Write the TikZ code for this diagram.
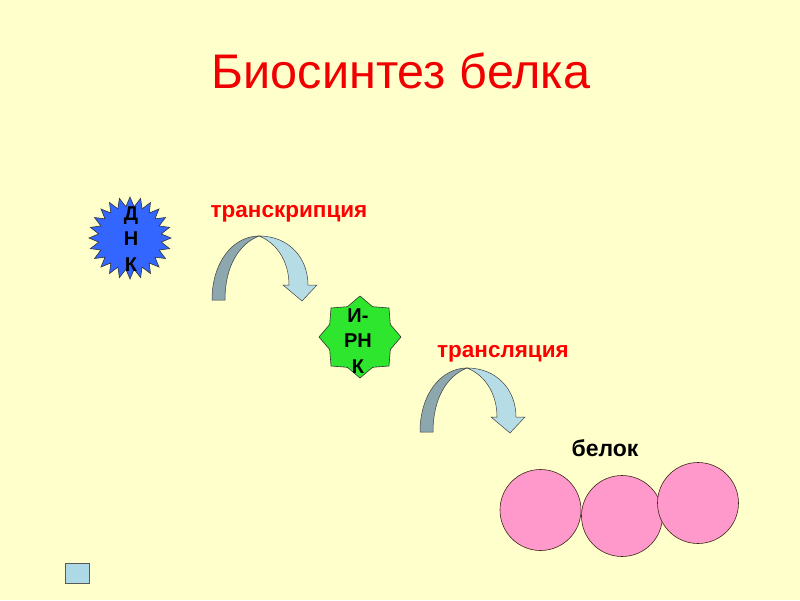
\documentclass[tikz,border=0pt]{standalone}
\usepackage{fontspec}
\setmainfont{Liberation Sans}
\usetikzlibrary{shapes.geometric}
\definecolor{bg}{HTML}{FFFFCC}
\definecolor{dnablue}{HTML}{3366FF}
\definecolor{rnagreen}{HTML}{2EE62E}
\definecolor{arrdark}{HTML}{8CA7AD}
\definecolor{arrlight}{HTML}{B6DDE6}
\definecolor{protpink}{HTML}{FF99CC}
\definecolor{sqblue}{HTML}{ADD8E6}
\definecolor{titlered}{HTML}{F00000}
\tikzset{
  starbox/.style={star, inner sep=0pt, draw=black!80, line width=0.6pt},
  letters/.style={align=center, font=\bfseries\fontsize{20}{25.5}\selectfont, text=black},
  proclabel/.style={anchor=base, font=\bfseries\fontsize{22.5}{26}\selectfont},
  ball/.style={circle, draw=black!70!brown, line width=0.6pt, fill=protpink, minimum size=81pt, inner sep=0pt},
  pics/bentarrow/.style={code={
    \draw[draw=black!75, line width=0.5pt, fill=arrdark]
      (-47,64) .. controls (-47,25) and (-25,0) .. (0,0)
      .. controls (-20,8) and (-34,30) .. (-34,64) -- cycle;
    \draw[draw=black!75, line width=0.5pt, fill=arrlight]
      (0,0) .. controls (30,0) and (49,22) .. (49,49)
      -- (58,49) -- (43,65) -- (24,49) -- (30,49)
      .. controls (30,28) and (20,8) .. (0,0) -- cycle;
  }}
}
\begin{document}
\begin{tikzpicture}[x=1pt,y=-1pt]
\fill[bg] (0,0) rectangle (800,600);
\useasboundingbox (0,0) rectangle (800,600);

\node[anchor=base, text=titlered, font=\fontsize{48.6}{52}\selectfont] (title) at (401,88) {Биосинтез белка};

\node[starbox, star points=24, star point ratio=1.3, minimum size=82pt, fill=dnablue] (dna) at (130,238) {};
\node[letters] (dnatext) at (131,239) {Д\\Н\\К};

\node[proclabel, text=red] (transcr) at (289,217) {транскрипция};
\pic at (259,236) {bentarrow};

\node[starbox, star points=8, star point ratio=1.25, minimum size=82pt, fill=rnagreen] (rna) at (360,337) {};
\node[letters] (rnatext) at (358,341) {И-\\РН\\К};

\node[proclabel, text=red] (transl) at (503,357) {трансляция};
\pic at (467,368) {bentarrow};

\node[proclabel, text=black, font=\bfseries\fontsize{23}{26}\selectfont] (prot) at (605,456) {белок};

\node[ball] (b1) at (540.5,510) {};
\node[ball] (b2) at (622,516) {};
\node[ball] (b3) at (698,503) {};

\node[draw=black!65, line width=0.8pt, fill=sqblue, minimum width=24pt, minimum height=20pt, inner sep=0pt] (sq) at (77.5,573.5) {};
\end{tikzpicture}
\end{document}
